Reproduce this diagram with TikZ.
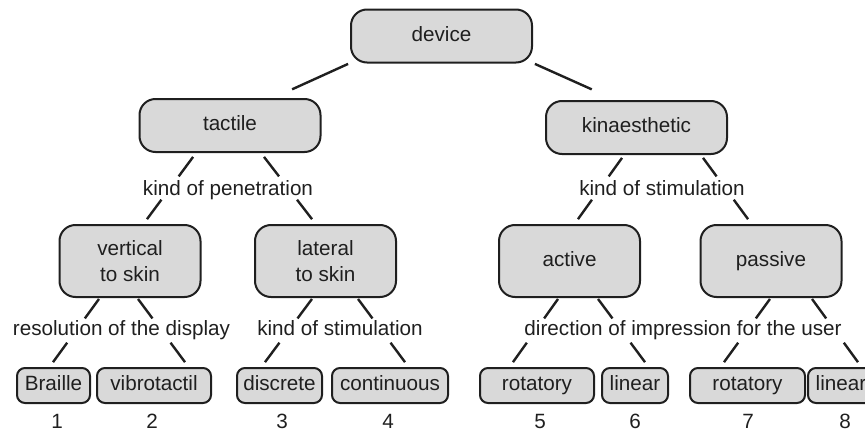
\documentclass[tikz,border=0pt]{standalone}
\usepackage{fontspec}
\setmainfont{Liberation Sans}
\newdimen\pxu
\pxu=0.75pt
\colorlet{boxfill}{gray!30}
\colorlet{ink}{black!88}
\tikzset{
  every node/.style = {font=\fontsize{15.5}{19.5}\selectfont, text=ink},
  class/.style = {draw=ink, fill=boxfill, line width=1.5pt, inner sep=0pt, align=center},
  tline/.style = {text height=11.2pt, text depth=3.3pt},
  bigbox/.style = {class, tline, rounded corners=12pt, minimum width=181\pxu, minimum height=53\pxu},
  midbox/.style = {class, rounded corners=12pt, minimum width=141\pxu, minimum height=72\pxu},
  leaf/.style = {class, tline, rounded corners=6pt, minimum height=35\pxu},
  crit/.style = {tline, inner xsep=2pt, inner ysep=2.2pt},
  idx/.style = {text height=11.2pt, text depth=0pt, inner sep=0pt},
  link/.style = {draw=ink, line width=1.8pt}
}

\begin{document}
\begin{tikzpicture}[x=0.75pt, y=-0.75pt]
  \useasboundingbox (0,0) rectangle (865,432);
  % classes
  \node[bigbox] (device) at (441.5,36) {device};
  \node[bigbox] (tactile) at (230,125.5) {tactile};
  \node[bigbox] (kin) at (636.5,127.5) {kinaesthetic};
  \node[midbox] (vertical) at (130,261) {vertical\\to skin};
  \node[midbox] (lateral) at (325.5,261) {lateral\\to skin};
  \node[midbox, tline] (active) at (569.5,261) {active};
  \node[midbox, tline] (passive) at (771,261) {passive};
  % leaves
  \node[leaf, minimum width=73\pxu] (braille) at (53.5,385.5) {Braille};
  \node[leaf, minimum width=114\pxu] (vibro) at (154,385.5) {vibrotactil};
  \node[leaf, minimum width=85\pxu] (discrete) at (279.5,385.5) {discrete};
  \node[leaf, minimum width=116\pxu] (continuous) at (390,385.5) {continuous};
  \node[leaf, minimum width=114\pxu] (rotA) at (537,385.5) {rotatory};
  \node[leaf, minimum width=66\pxu] (linA) at (635,385.5) {linear};
  \node[leaf, minimum width=115\pxu] (rotP) at (747.5,385.5) {rotatory};
  \node[leaf, minimum width=66\pxu] (linP) at (841,385.5) {linear};
  % criteria
  \node[crit] (penetration) at (228,190.5) {kind of penetration};
  \node[crit] (stimK) at (662,190) {kind of stimulation};
  \node[crit] (resolution) at (121.5,330.5) {resolution of the display};
  \node[crit] (stimL) at (340,330.5) {kind of stimulation};
  \node[crit] (direction) at (683,330.5) {direction of impression for the user};
  % numbers
  \node[idx] (n1) at (57,421.5) {1};
  \node[idx] (n2) at (152,421.5) {2};
  \node[idx] (n3) at (282,421.5) {3};
  \node[idx] (n4) at (388,421.5) {4};
  \node[idx] (n5) at (540,421.5) {5};
  \node[idx] (n6) at (635,421.5) {6};
  \node[idx] (n7) at (748,421.5) {7};
  \node[idx] (n8) at (845,421.5) {8};
  % links from the root
  \draw[link, shorten <=1\pxu, shorten >=21\pxu] ([xshift=-92.5\pxu]device.south) -- ([xshift=43\pxu]tactile.north);
  \draw[link, shorten <=1\pxu, shorten >=26\pxu] ([xshift=92.5\pxu]device.south) -- ([xshift=-21\pxu]kin.north);
  % links broken by the criterion text
  \foreach \from/\fx/\to/\tx/\pa/\pb/\pc/\pd in {
      tactile/-34/vertical/13.4/.055/.329/.658/.932,
      tactile/31/lateral/-9.75/.055/.329/.658/.932,
      kin/-12.4/active/5/.042/.310/.648/.930,
      kin/64.4/passive/-19.4/.042/.310/.648/.930,
      vertical/-30.3/braille/-4/.014/.296/.648/.930,
      vertical/7.3/vibro/34.6/.014/.296/.648/.930,
      lateral/-12.8/discrete/-18.1/.014/.296/.648/.930,
      lateral/31.8/continuous/18.6/.014/.296/.648/.930,
      active/-10.8/rotA/-27.5/.014/.296/.648/.930,
      active/27.8/linA/13.6/.014/.296/.648/.930,
      passive/-0.3/rotP/-27/.014/.296/.648/.930,
      passive/40.3/linP/20.5/.014/.296/.648/.930}{
    \path ([xshift=\fx\pxu]\from.south) -- ([xshift=\tx\pxu]\to.north)
      coordinate[pos=\pa] (s1) coordinate[pos=\pb] (s2)
      coordinate[pos=\pc] (s3) coordinate[pos=\pd] (s4);
    \draw[link] (s1) -- (s2) (s3) -- (s4);
  }
\end{tikzpicture}
\end{document}
